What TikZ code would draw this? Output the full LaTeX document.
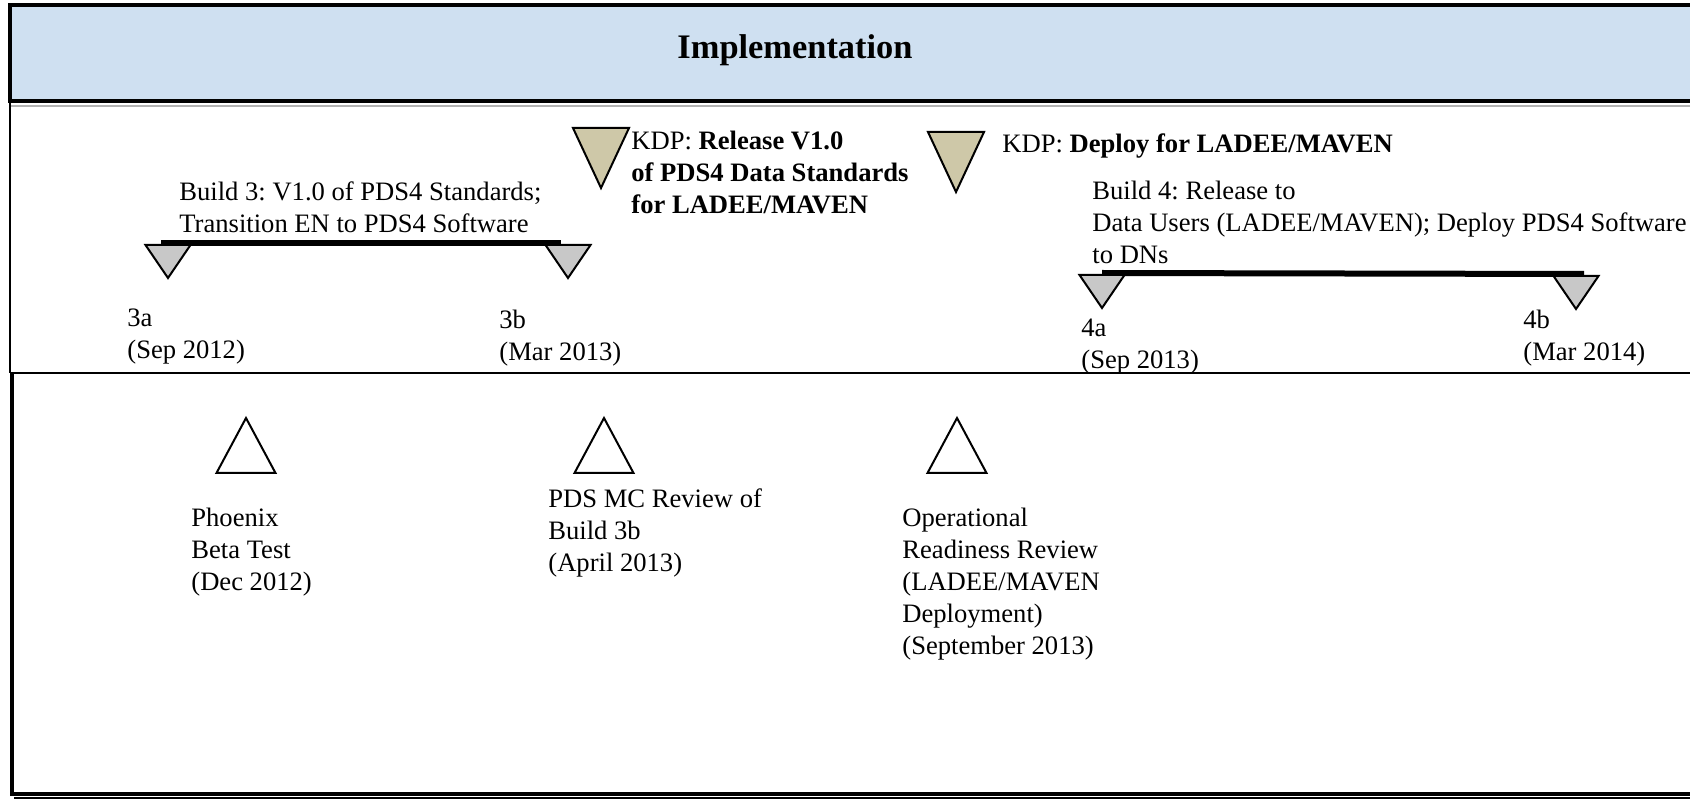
\documentclass[tikz,border=0pt]{standalone}
\usepackage{fontspec}
\setmainfont{Liberation Serif}
\frenchspacing
\definecolor{headblue}{RGB}{207,224,241}
\definecolor{kdpkhaki}{RGB}{206,200,168}
\definecolor{buildgray}{RGB}{200,200,200}
\tikzset{lbl/.style={anchor=north west,align=left,inner sep=0pt,font=\fontsize{13.3}{16}\selectfont},
	build tri/.style={draw,fill=buildgray,line width=1pt,line join=miter},
	kdp tri/.style={draw,fill=kdpkhaki,line width=1pt,line join=miter},
	review tri/.style={draw,fill=white,line width=1pt,line join=miter},
	build bar/.style={line width=3pt},
}

\begin{document}
\begin{tikzpicture}[x=0.5pt,y=-0.5pt]
	\clip (0,0) rectangle (1690,801);
	\fill[white] (0,0) rectangle (1690,801);
	
	% header band
	\draw[line width=2pt,fill=headblue] (10,5) rectangle (1720,101);
	\draw[gray!60,line width=0.6pt] (10,106) -- (1720,106);
	\node[font=\fontsize{17.2}{20}\selectfont\bfseries] (head) at (795,50) {Implementation};
	
	% frames
	\draw[line width=1pt] (10,101) -- (10,373);
	\draw[line width=1pt] (10,373) -- (1720,373);
	\draw[line width=2pt] (12,373) -- (12,794) -- (1720,794);
	\draw[line width=1pt] (14,798) -- (1720,798);
	
	% builds
	\coordinate (b3a) at (168,245);
	\coordinate (b3b) at (568,245);
	\coordinate (b4a) at (1102,275);
	\coordinate (b4b) at (1576,276);
	\draw[build bar] ([xshift=-3.5pt,yshift=1pt]b3a) -- ([xshift=-3.5pt,yshift=1pt]b3b);
	\draw[build bar] ([yshift=1pt]b4a) -- ([xshift=4pt,yshift=1pt]b4b);
	\foreach \b in {b3a,b3b,b4a,b4b}
		\draw[build tri] (\b) ++(-22.5,0) -- ++(45,0) -- ++(-22.5,33) -- cycle;
	
	% KDPs
	\coordinate (k1) at (601,128);
	\coordinate (k2) at (956,132);
	\foreach \k in {k1,k2}
		\draw[kdp tri] (\k) ++(-28,0) -- ++(56,0) -- ++(-28,60) -- cycle;
	
	% reviews
	\coordinate (r1) at (246,418);
	\coordinate (r2) at (604,418);
	\coordinate (r3) at (957,418);
	\foreach \r in {r1,r2,r3}
		\draw[review tri] (\r) -- ++(29.5,55) -- ++(-59,0) -- cycle;
	
	\node[lbl] (build3) at (179,181) {Build 3: V1.0 of PDS4 Standards;\\Transition EN to PDS4 Software};
	\node[lbl] (kdp1) at (631,131) {KDP: \textbf{Release V1.0}\\\textbf{of PDS4 Data Standards}\\\textbf{for LADEE/MAVEN}};
	\node[lbl] (kdp2) at (1002,133) {KDP: \textbf{Deploy for LADEE/MAVEN}};
	\node[lbl] (build4) at (1092,181) {Build 4: Release to\\Data Users (LADEE/MAVEN); Deploy PDS4 Software\\to DNs};
	\node[lbl] (m3a) at (127,308) {3a\\(Sep 2012)};
	\node[lbl] (m3b) at (499,310) {3b\\(Mar 2013)};
	\node[lbl] (m4a) at (1081,319) {4a\\(Sep 2013)};
	\node[lbl] (m4b) at (1523,310) {4b\\(Mar 2014)};
	\node[lbl] (phoenix) at (191,508) {Phoenix\\Beta Test\\(Dec 2012)};
	\node[lbl] (mcrev) at (548,488) {PDS MC Review of\\Build 3b\\(April 2013)};
	\node[lbl] (orr) at (902,508) {Operational\\Readiness Review\\(LADEE/MAVEN\\Deployment)\\(September 2013)};
\end{tikzpicture}
\end{document}
